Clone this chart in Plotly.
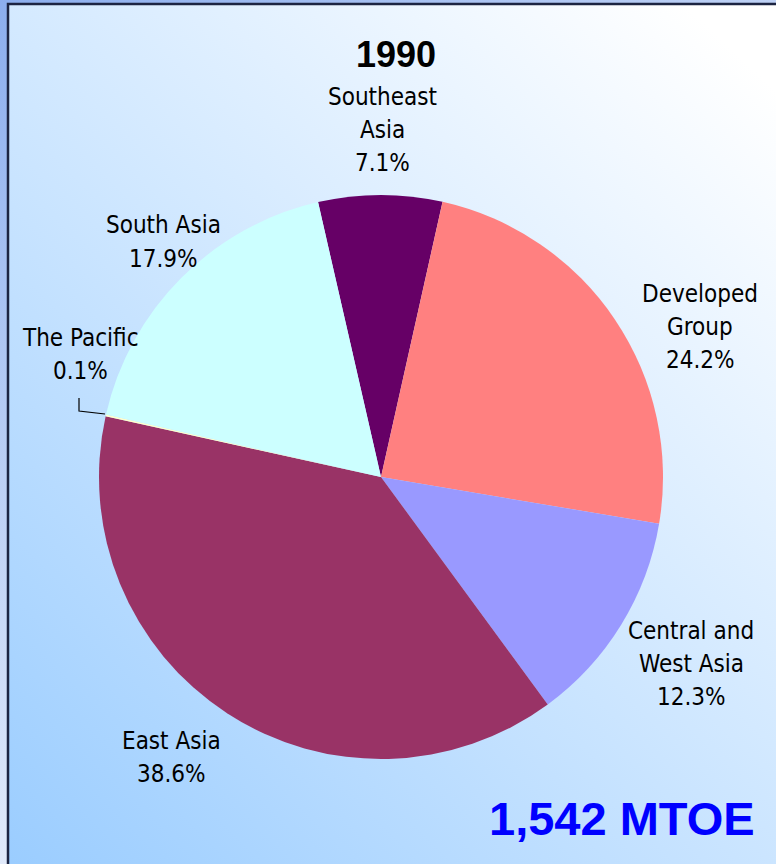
import base64
import plotly.graph_objects as go

# ---- data ----
year_title = "1990"
total_label = "1,542 MTOE"
regions = ["Southeast Asia", "Developed Group", "Central and West Asia",
           "East Asia", "The Pacific", "South Asia"]
display_names = [["Southeast", "Asia"], ["Developed", "Group"], ["Central and", "West Asia"],
                 ["East Asia"], ["The Pacific"], ["South Asia"]]
shares = [7.1, 24.2, 12.3, 38.6, 0.1, 17.9]
colors = ["#660066", "#FF8080", "#9999FF", "#993366", "#FFFFCC", "#CCFFFF"]

# label block centres in pixels (layout only)
label_px = [(382, 130), (700, 327), (691, 664), (171, 757), (80, 354), (163, 242)]
LINE_GAP = 33

W, H = 776, 864
LABEL_FONT = "DejaVu Sans Condensed, Liberation Sans Narrow, Liberation Sans, Arial, sans-serif"

svg = f'''<svg xmlns="http://www.w3.org/2000/svg" width="{W}" height="{H}" viewBox="0 0 {W} {H}" preserveAspectRatio="none">
<defs>
<linearGradient id="outer" x1="0" y1="0" x2="0.6" y2="1">
<stop offset="0" stop-color="#8CAEEE"/><stop offset="1" stop-color="#FFFFFF"/>
</linearGradient>
<linearGradient id="inner" x1="0" y1="1" x2="0.85" y2="0">
<stop offset="0" stop-color="#99CCFF"/><stop offset="1" stop-color="#FFFFFF"/>
</linearGradient>
</defs>
<rect x="0" y="0" width="{W}" height="{H}" fill="url(#outer)"/>
<rect x="8" y="4" width="{W + 20}" height="{H + 20}" fill="url(#inner)" stroke="#1C2442" stroke-width="2.5"/>
</svg>'''
svg_uri = "data:image/svg+xml;base64," + base64.b64encode(svg.encode()).decode()

cx, cy, r = 381, 477, 282

fig = go.Figure(go.Pie(
    labels=regions,
    values=shares,
    sort=False,
    direction="clockwise",
    rotation=-12.9,
    marker=dict(colors=colors, line=dict(width=0)),
    textinfo="none",
    hoverinfo="label+value",
    showlegend=False,
    domain=dict(x=[(cx - r) / W, (cx + r) / W],
                y=[(H - cy - r) / H, (H - cy + r) / H]),
))

annotations = []
for name_lines, val, (px, py) in zip(display_names, shares, label_px):
    lines = name_lines + [f"{val:.1f}%"]
    n = len(lines)
    for i, line in enumerate(lines):
        ly = py + (i - (n - 1) / 2) * LINE_GAP
        annotations.append(dict(
            x=px / W, y=1 - ly / H, xref="paper", yref="paper",
            text=line, showarrow=False,
            xanchor="center", yanchor="middle", align="center",
            font=dict(family=LABEL_FONT, size=24, color="#000000"),
        ))

annotations.append(dict(
    x=396 / W, y=1 - 54 / H, xref="paper", yref="paper", text=f"<b>{year_title}</b>",
    showarrow=False, xanchor="center", yanchor="middle",
    font=dict(family="Liberation Sans, Arial, sans-serif", size=36, color="#000000"),
))
annotations.append(dict(
    x=622 / W, y=1 - 818 / H, xref="paper", yref="paper", text=f"<b>{total_label}</b>",
    showarrow=False, xanchor="center", yanchor="middle",
    font=dict(family="Liberation Sans, Arial, sans-serif", size=47, color="#0000FF"),
))

def p(x, y):
    return f"{x / W} {1 - y / H}"

fig.update_layout(
    width=W, height=H,
    margin=dict(l=0, r=0, t=0, b=0),
    paper_bgcolor="#FFFFFF",
    plot_bgcolor="rgba(0,0,0,0)",
    images=[dict(source=svg_uri, xref="paper", yref="paper", x=0, y=1,
                 sizex=1, sizey=1, sizing="stretch", layer="below",
                 xanchor="left", yanchor="top")],
    annotations=annotations,
    shapes=[dict(type="path", xref="paper", yref="paper",
                 path=f"M {p(79, 398)} L {p(79, 411)} L {p(105, 414)}",
                 line=dict(color="#000000", width=1.2))],
)

fig.write_html("out.html",
               config={"displayModeBar": False},
               post_script="document.body.style.margin='0px';document.body.style.overflow='hidden';")
